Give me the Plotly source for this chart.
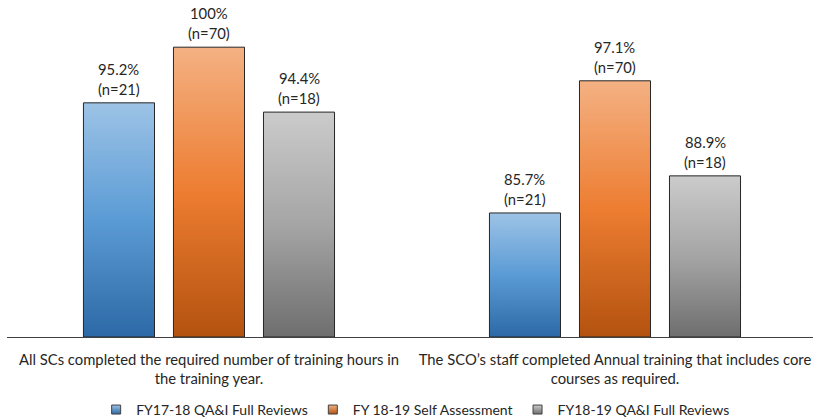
import plotly.graph_objects as go

categories = [
    "All SCs completed the required number of training hours in<br>the training year.",
    "The SCO\u2019s staff completed Annual training that includes core<br>courses as required.",
]
series_names = ["FY17-18 QA&I Full Reviews", "FY 18-19 Self Assessment", "FY18-19 QA&I Full Reviews"]
values = [
    [95.2, 85.7],
    [100.0, 97.1],
    [94.4, 88.9],
]
counts = [
    [21, 21],
    [70, 70],
    [18, 18],
]
# gradient colours (bottom, middle, top)
grad_colors = [
    ["#2c69a6", "#5b9bd5", "#9dc3e6"],
    ["#b3520f", "#ed7d31", "#f4b183"],
    ["#6e6e6e", "#a5a5a5", "#cbcbcb"],
]

Y_MIN = 75.0
Y_MAX = 104.07
BAR_W = 0.175
SLOT = 0.2217
FONT = "Lato"
TXT = "#262626"

fig = go.Figure()

for i, name in enumerate(series_names):
    off = (i - 1) * SLOT
    for j, v in enumerate(values[i]):
        xc = j + off
        x0, x1 = xc - BAR_W / 2, xc + BAR_W / 2
        fig.add_trace(go.Scatter(
            x=[x0, x1, x1, x0, x0],
            y=[Y_MIN, Y_MIN, v, v, Y_MIN],
            mode="lines",
            fill="toself",
            fillgradient=dict(
                type="vertical",
                start=Y_MIN,
                stop=v,
                colorscale=[[0, grad_colors[i][0]], [0.5, grad_colors[i][1]], [1, grad_colors[i][2]]],
            ),
            line=dict(color="#262626", width=1),
            showlegend=False,
            hoverinfo="skip",
        ))
        fig.add_annotation(
            x=xc, y=v, xref="x", yref="y",
            text=f"(n={counts[i][j]})",
            showarrow=False, yanchor="bottom", yshift=3,
            font=dict(family=FONT, size=14.8, color=TXT),
        )
        fig.add_annotation(
            x=xc, y=v, xref="x", yref="y",
            text=f"{v:g}%",
            showarrow=False, yanchor="bottom", yshift=23,
            font=dict(family=FONT, size=14.8, color=TXT),
        )
    fig.add_trace(go.Scatter(
        x=[None], y=[None], mode="markers", name=name,
        marker=dict(symbol="square", size=9, color=grad_colors[i][2],
                    gradient=dict(type="vertical", color=grad_colors[i][0]),
                    line=dict(color="#404040", width=1)),
    ))

fig.update_layout(
    width=813, height=420,
    margin=dict(l=7, r=0, t=0, b=83, autoexpand=False),
    plot_bgcolor="white", paper_bgcolor="white",
    font=dict(family=FONT, size=14, color=TXT),
    xaxis=dict(
        range=[-0.4975, 1.4877],
        tickvals=[0, 1], ticktext=categories,
        showgrid=False, zeroline=False,
        showline=True, linecolor="#404040", linewidth=1,
        ticks="", ticklabelstandoff=9,
        tickfont=dict(family=FONT, size=14.8, color=TXT),
        automargin=False,
        fixedrange=True,
    ),
    yaxis=dict(range=[Y_MIN, Y_MAX], visible=False, fixedrange=True),
    legend=dict(
        orientation="h", x=0.507, xanchor="center", y=-0.169, yanchor="top",
        font=dict(family=FONT, size=14, color=TXT),
        itemwidth=30,
    ),
    showlegend=True,
)

fig.write_html("out.html", config={"displayModeBar": False},
               post_script="document.body.style.margin='0';")
